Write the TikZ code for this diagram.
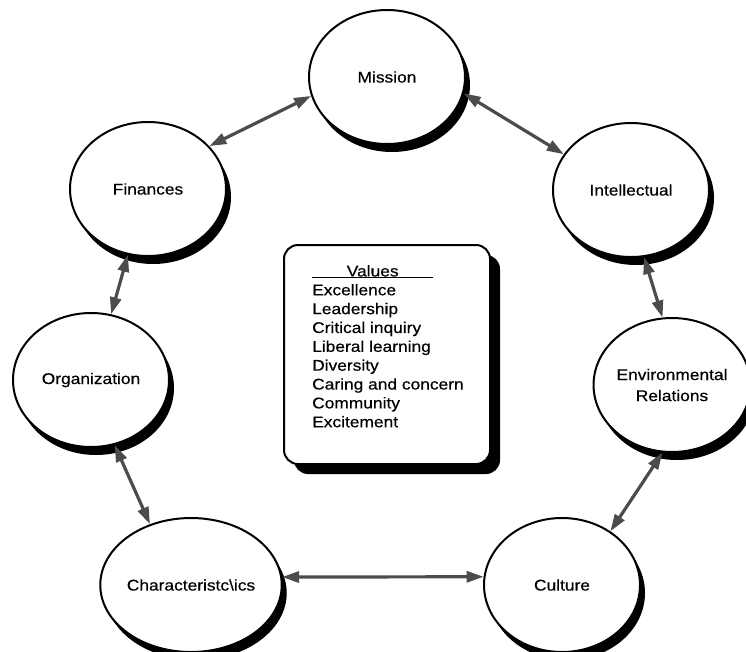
\documentclass[tikz,border=0pt]{standalone}
\usepackage{fontspec}
\setmainfont{Liberation Sans}[FakeStretch=1.12, FakeBold=0.4]
\usetikzlibrary{arrows.meta,shapes.geometric,shadows}

\tikzset{
    topic/.style={ellipse, draw, line width=2pt, fill=white,
        minimum width=156pt, minimum height=134pt, inner sep=0pt, align=center,
        font=\fontsize{15.5}{21}\selectfont,
        drop shadow={shadow xshift=5pt, shadow yshift=-8pt, fill=black, opacity=1}},
    valbox/.style={rectangle, draw, line width=2pt, fill=white, rounded corners=14pt,
        minimum width=206pt, minimum height=219pt,
        drop shadow={shadow xshift=10pt, shadow yshift=-10pt, fill=black, opacity=1}},
    link/.style={line width=3.2pt, black!70,
        {Triangle[length=17pt,width=11pt]}-{Triangle[length=17pt,width=11pt]}},
}

\begin{document}
\begin{tikzpicture}[x=1pt, y=-1pt]
    \path[fill=white] (0,0) rectangle (746,651);
    \useasboundingbox (0,0) rectangle (746,651);
    % The seven topics round the ring
    \foreach \n/\x/\y/\t in {mis/387/77/Mission, fin/148/189/Finances,
        int/631/190/Intellectual, org/91/380/Organization,
        env/672/385/{Environmental\\Relations}, cha/191/585/{Characteristc\textbackslash ics},
        cul/562/585/Culture} {
        \node[topic] (\n) at (\x,\y) {\t};
    }
    % Values in the middle
    \node[valbox] (box) at (387,354.5) {};
    \node[anchor=north west, align=left, inner sep=0pt,
        font=\fontsize{15.5}{18.85}\selectfont] (vals) at (312,265)
        {\rlap{\rule[-1.8pt]{121pt}{1.2pt}}\makebox[121pt]{Values}\\
         Excellence\\ Leadership\\ Critical inquiry\\ Liberal learning\\
         Diversity\\ Caring and concern\\ Community\\ Excitement};
    % Double arrows between neighbours
    \foreach \a/\b in {fin.35/mis.194, mis.348/int.152, int.281/env.98,
        env.262/cul.48, cul.174/cha.5, cha.124/org.290, org.73/fin.253} {
        \draw[link] (\a) -- (\b);
    }
\end{tikzpicture}
\end{document}
